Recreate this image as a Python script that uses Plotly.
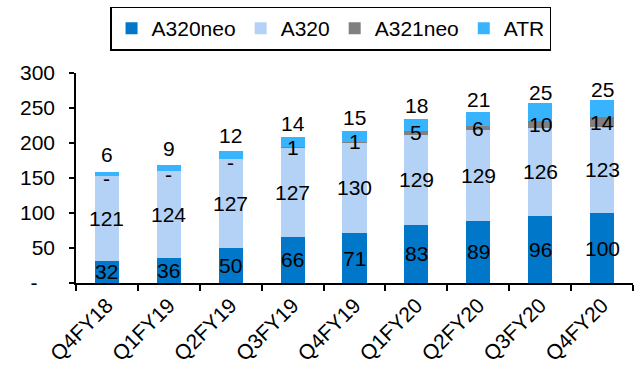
import plotly.graph_objects as go

categories = ["Q4FY18", "Q1FY19", "Q2FY19", "Q3FY19", "Q4FY19", "Q1FY20", "Q2FY20", "Q3FY20", "Q4FY20"]
a320neo = [32, 36, 50, 66, 71, 83, 89, 96, 100]
a320 = [121, 124, 127, 127, 130, 129, 129, 126, 123]
a321neo = [0, 0, 0, 1, 1, 5, 6, 10, 14]
atr = [6, 9, 12, 14, 15, 18, 21, 25, 25]
y_ticks = [0, 50, 100, 150, 200, 250, 300]
y_ticktext = ["-&nbsp;&nbsp;&nbsp;", "50", "100", "150", "200", "250", "300"]

series = [
    ("A320neo", a320neo, "#0077C8"),
    ("A320", a320, "#B4D2F5"),
    ("A321neo", a321neo, "#808080"),
    ("ATR", atr, "#38B4FF"),
]

FONT = "Liberation Sans, Arial, sans-serif"
FS = 21
fig = go.Figure()
for name, vals, col in series:
    fig.add_trace(go.Bar(x=categories, y=vals, name=name, marker=dict(color=col, line=dict(width=0))))

annotations = []
base = [0] * len(categories)
for si, (name, vals, col) in enumerate(series):
    for i, v in enumerate(vals):
        mid = base[i] + v / 2
        txt = "-" if v == 0 else str(v)
        if name == "ATR":
            shift = 19
        elif name == "A321neo" and v == 0:
            shift = -3
        else:
            shift = 0
        annotations.append(dict(x=categories[i], y=mid, text=txt, showarrow=False,
                                yshift=shift, font=dict(family=FONT, size=FS, color="black")))
        base[i] += v

fig.update_layout(
    barmode="stack",
    bargap=0.61,
    width=643, height=370,
    margin=dict(l=76, r=10, t=73, b=87, autoexpand=False),
    paper_bgcolor="white", plot_bgcolor="white",
    font=dict(family=FONT, size=FS, color="black"),
    annotations=annotations,
    showlegend=True,
    legend=dict(orientation="h", x=0.457, xanchor="center", y=1.316, yanchor="top",
                bordercolor="black", borderwidth=1.5, font=dict(size=FS), itemwidth=30,
                traceorder="normal"),
    xaxis=dict(showline=True, linecolor="black", linewidth=1.5, ticks="outside", tickson="boundaries",
               ticklen=6, tickcolor="black", tickwidth=1.5, tickangle=-45, showgrid=False,
               tickfont=dict(size=FS), automargin=False),
    yaxis=dict(range=[0, 300], tickvals=y_ticks, ticktext=y_ticktext, showline=True, linecolor="black",
               linewidth=1.5, ticks="outside", ticklen=5, tickcolor="black", tickwidth=1.5,
               showgrid=False, zeroline=False, ticklabelstandoff=10, tickfont=dict(size=FS),
               automargin=False),
)
fig.write_html("out.html")
